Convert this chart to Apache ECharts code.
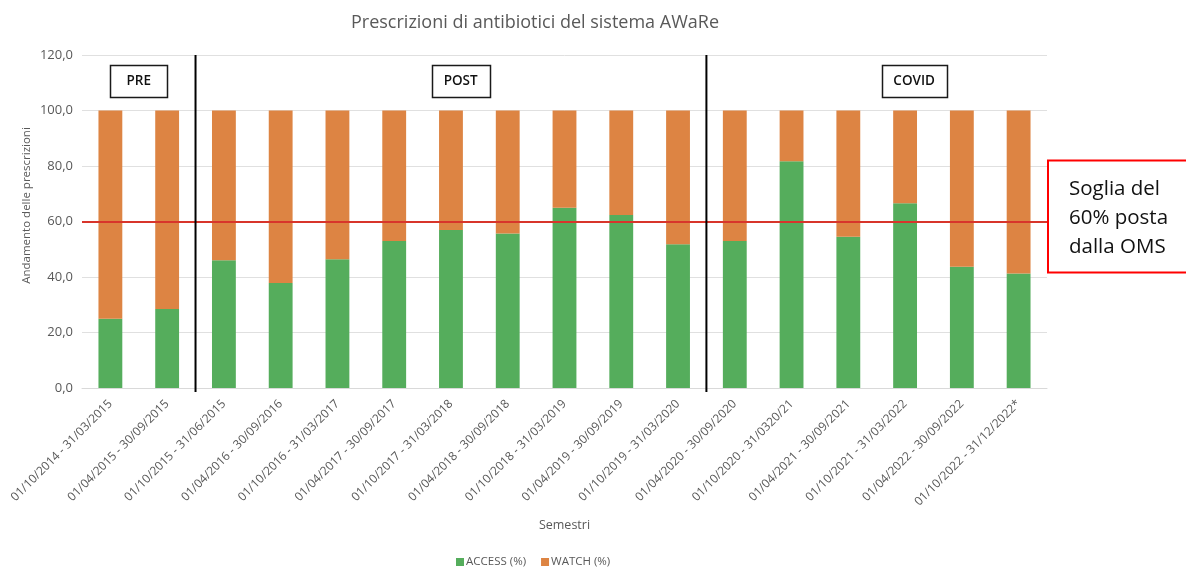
<!DOCTYPE html>
<html>
<head>
<meta charset="utf-8">
<title>Prescrizioni di antibiotici del sistema AWaRe</title>
<script src="https://cdn.jsdelivr.net/npm/echarts@6/dist/echarts.min.js"></script>
<style>
  html, body { margin: 0; padding: 0; background: #ffffff; }
  #chart { width: 1186px; height: 571px; }
</style>
</head>
<body>
<div id="chart"></div>
<script>
// Semestri di osservazione
const semestri = [
  '01/10/2014 - 31/03/2015',
  '01/04/2015 - 30/09/2015',
  '01/10/2015 - 31/06/2015',
  '01/04/2016 - 30/09/2016',
  '01/10/2016 - 31/03/2017',
  '01/04/2017 - 30/09/2017',
  '01/10/2017 - 31/03/2018',
  '01/04/2018 - 30/09/2018',
  '01/10/2018 - 31/03/2019',
  '01/04/2019 - 30/09/2019',
  '01/10/2019 - 31/03/2020',
  '01/04/2020 - 30/09/2020',
  '01/10/2020 - 31/0320/21',
  '01/04/2021 - 30/09/2021',
  '01/10/2021 - 31/03/2022',
  '01/04/2022 - 30/09/2022',
  '01/10/2022 - 31/12/2022*'
];

// Quota ACCESS (%) per semestre
const accessPct = [25.0, 28.5, 46.0, 37.8, 46.4, 53.0, 56.9, 55.7, 65.0, 62.3, 51.8, 53.0, 81.7, 54.5, 66.6, 43.7, 41.3];

// Quota WATCH (%) per semestre
const watchPct = [75.0, 71.5, 54.0, 62.2, 53.6, 47.0, 43.1, 44.3, 35.0, 37.7, 48.2, 47.0, 18.3, 45.5, 33.4, 56.3, 58.7];

// Asse Y
const yTicks = [0, 20, 40, 60, 80, 100, 120];

// Soglia OMS
const sogliaOMS = 60;

// Periodi: etichetta, primo e ultimo semestre
const periodi = [
  { nome: 'PRE',   da: 0,  a: 1 },
  { nome: 'POST',  da: 2,  a: 10 },
  { nome: 'COVID', da: 11, a: 16 }
];

const FONT = '"Open Sans", "Noto Sans", sans-serif';
const GREY = '#595959';

const chart = echarts.init(document.getElementById('chart'), null, { renderer: 'canvas' });

chart.setOption({
  animation: false,
  backgroundColor: '#ffffff',
  textStyle: { fontFamily: FONT },
  title: {
    text: 'Prescrizioni di antibiotici del sistema AWaRe',
    left: 530,
    top: 9,
    textAlign: 'center',
    textStyle: { fontFamily: FONT, fontSize: 18, fontWeight: 'normal', color: GREY }
  },
  legend: {
    left: 451,
    bottom: -2,
    icon: 'rect',
    itemWidth: 8,
    itemHeight: 8,
    itemGap: 15,
    textStyle: { fontFamily: FONT, fontSize: 11.5, color: GREY, padding: [0, 0, 0, -3] },
    data: ['ACCESS (%)', 'WATCH (%)']
  },
  grid: { left: 82, right: 139, top: 55, bottom: 183, containLabel: false },
  xAxis: {
    type: 'category',
    data: semestri,
    name: 'Semestri',
    nameLocation: 'middle',
    nameGap: 131,
    nameTextStyle: { fontFamily: FONT, fontSize: 12.5, color: GREY },
    axisLine: { lineStyle: { color: '#d9d9d9', width: 1 } },
    axisTick: { show: false },
    axisLabel: {
      rotate: 45,
      interval: 0,
      margin: 14,
      fontFamily: FONT,
      fontSize: 12,
      color: GREY
    }
  },
  yAxis: {
    type: 'value',
    min: yTicks[0],
    max: yTicks[yTicks.length - 1],
    interval: yTicks[1] - yTicks[0],
    axisLine: { show: false },
    axisTick: { show: false },
    splitLine: { lineStyle: { color: '#e0e0e0', width: 1 } },
    axisLabel: {
      margin: 9,
      fontFamily: FONT,
      fontSize: 13,
      color: GREY,
      formatter: v => v.toFixed(1).replace('.', ',')
    }
  },
  series: [
    {
      name: 'ACCESS (%)',
      type: 'bar',
      stack: 'aware',
      barWidth: '42%',
      itemStyle: { color: '#55ad5c' },
      data: accessPct
    },
    {
      name: 'WATCH (%)',
      type: 'bar',
      stack: 'aware',
      barWidth: '42%',
      itemStyle: { color: '#dd8443' },
      data: watchPct
    },
    {
      // linea della soglia OMS, sopra le barre
      name: 'soglia',
      type: 'line',
      data: [],
      z: 8,
      markLine: {
        silent: true,
        symbol: 'none',
        label: { show: false },
        lineStyle: { color: '#d8352b', width: 2, type: 'solid' },
        data: [{ yAxis: sogliaOMS }]
      }
    }
  ]
});

// Elementi grafici: separatori dei periodi, riquadri e nota sulla soglia
function disegnaAnnotazioni() {
  const px = i => chart.convertToPixel({ xAxisIndex: 0 }, semestri[i]);
  const py = v => chart.convertToPixel({ yAxisIndex: 0 }, v);
  const yTop = py(yTicks[yTicks.length - 1]);
  const yBase = py(0);
  const graphic = [];

  // linee verticali tra i periodi
  for (let k = 0; k < periodi.length - 1; k++) {
    const x = (px(periodi[k].a) + px(periodi[k + 1].da)) / 2;
    graphic.push({
      type: 'line',
      z: 10,
      shape: { x1: x, y1: yTop, x2: x, y2: yBase + 4 },
      style: { stroke: '#000000', lineWidth: 2 }
    });
  }

  // riquadri con il nome del periodo
  const offset = { PRE: 0.5, POST: 4.17, COVID: 3.16 };
  const larghezza = { PRE: 57, POST: 58, COVID: 65 };
  const yBox = py(110.6);
  periodi.forEach(p => {
    const xc = px(p.da) + offset[p.nome] * (px(1) - px(0));
    const w = larghezza[p.nome];
    const h = 32;
    graphic.push({
      type: 'rect',
      z: 10,
      shape: { x: Math.round(xc - w / 2) + 0.5, y: Math.round(yBox - h / 2) + 0.5, width: w, height: h },
      style: { fill: '#ffffff', stroke: '#1a1a1a', lineWidth: 1.5 }
    });
    graphic.push({
      type: 'text',
      z: 11,
      x: xc,
      y: yBox,
      style: {
        text: p.nome,
        fill: '#111111',
        font: '600 13.5px ' + FONT,
        align: 'center',
        verticalAlign: 'middle'
      }
    });
  });

  // titolo asse Y
  graphic.push({
    type: 'text',
    x: 27,
    y: (yTop + yBase) / 2 - 16,
    rotation: Math.PI / 2,
    style: {
      text: 'Andamento delle prescrizioni',
      fill: GREY,
      font: '11.5px ' + FONT,
      align: 'center',
      verticalAlign: 'middle'
    }
  });

  // riquadro della soglia OMS
  const ySoglia = py(sogliaOMS);
  graphic.push({
    type: 'rect',
    z: 12,
    shape: { x: 1048, y: ySoglia - 61, width: 150, height: 112 },
    style: { fill: '#ffffff', stroke: '#ff0000', lineWidth: 2 }
  });
  graphic.push({
    type: 'text',
    z: 13,
    x: 1069,
    y: ySoglia - 3,
    style: {
      text: 'Soglia del\n60% posta\ndalla OMS',
      fill: '#111111',
      font: '20.5px ' + FONT,
      lineHeight: 29,
      align: 'left',
      verticalAlign: 'middle'
    }
  });

  chart.setOption({ graphic: graphic });
}

disegnaAnnotazioni();
</script>
</body>
</html>
